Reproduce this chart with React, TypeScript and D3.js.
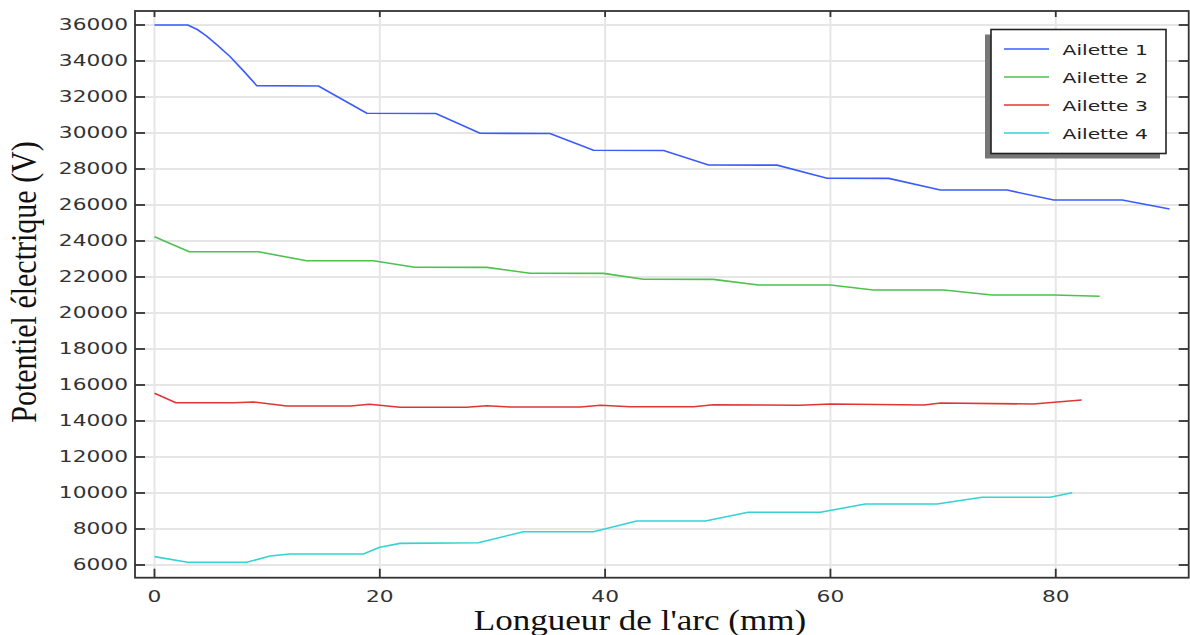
import React from "react";
import * as d3 from "d3";

const xTicks = [0, 20, 40, 60, 80];
const yTicks = [6000, 8000, 10000, 12000, 14000, 16000, 18000, 20000, 22000, 24000, 26000, 28000, 30000, 32000, 34000, 36000];

const seriesNames = ["Ailette 1", "Ailette 2", "Ailette 3", "Ailette 4"];
const seriesColors = ["#3b5bff", "#4cc24c", "#e03535", "#33d3d3"];

const ailette1X = [0, 2.95, 3.8, 4.6, 5.6, 6.7, 7.9, 9.08, 14.55, 18.85, 24.97, 28.9, 35.1, 38.97, 45.19, 49.18, 55.26, 59.7, 65.17, 69.76, 75.68, 79.82, 85.9, 90.1];
const ailette1Y = [36000, 36000, 35750, 35400, 34870, 34250, 33450, 32630, 32610, 31094, 31080, 29983, 29975, 29039, 29030, 28222, 28215, 27483, 27480, 26833, 26830, 26278, 26275, 25778];

const ailette2X = [0, 3.09, 9.22, 13.5, 19.43, 23.1, 29.5, 33.35, 39.86, 43.4, 49.6, 53.6, 60.0, 63.8, 70.05, 74.35, 79.8, 83.9];
const ailette2Y = [24239, 23406, 23400, 22906, 22900, 22539, 22535, 22206, 22200, 21872, 21868, 21556, 21552, 21278, 21275, 21000, 21000, 20928];

const ailette3X = [0, 1.9, 7.0, 8.8, 11.74, 17.4, 19.1, 21.8, 27.7, 29.5, 31.6, 37.8, 39.6, 42.2, 47.85, 49.6, 57.3, 60.0, 68.3, 69.8, 78.0, 82.3];
const ailette3Y = [15537, 15017, 15017, 15056, 14833, 14833, 14928, 14761, 14761, 14850, 14778, 14778, 14872, 14794, 14794, 14906, 14872, 14944, 14889, 15000, 14944, 15167];

const ailette4X = [0, 2.95, 8.19, 10.26, 12.03, 18.54, 20.0, 21.8, 28.76, 32.75, 38.97, 42.8, 48.9, 52.7, 59.1, 63.1, 69.47, 73.46, 79.5, 81.46];
const ailette4Y = [6463, 6150, 6150, 6500, 6611, 6611, 6983, 7200, 7239, 7850, 7850, 8444, 8444, 8928, 8928, 9389, 9389, 9761, 9761, 10017];

const seriesX = [ailette1X, ailette2X, ailette3X, ailette4X];
const seriesY = [ailette1Y, ailette2Y, ailette3Y, ailette4Y];

export default function App() {
  const left = 135, right = 1188.7, top = 11, bottom = 577.7;
  const x = d3.scaleLinear().domain([-1.73, 91.8]).range([left, right]);
  const y = d3.scaleLinear().domain([5294, 36778]).range([bottom, top]);
  const line = d3.line<[number, number]>().x(d => x(d[0])).y(d => y(d[1]));
  const axisColor = "#333";
  const tickFont = "DejaVu Sans, sans-serif";

  const legX = 991, legY = 29.5, legW = 175, legH = 124;

  return (
    <svg width={1190} height={635} style={{ position: "absolute", left: 0, top: 0, background: "#fff" }}>
      <rect x={0} y={0} width={1190} height={635} fill="#fff" />
      {yTicks.map(t => (
        <line key={"gy" + t} x1={left} x2={right} y1={y(t)} y2={y(t)} stroke="#e6e6e6" strokeWidth={2} />
      ))}
      {xTicks.map(t => (
        <line key={"gx" + t} x1={x(t)} x2={x(t)} y1={top} y2={bottom} stroke="#e6e6e6" strokeWidth={2} />
      ))}
      {seriesX.map((xs, i) => (
        <path key={"s" + i} d={line(xs.map((v, j) => [v, seriesY[i][j]]) as [number, number][]) || ""}
          fill="none" stroke={seriesColors[i]} strokeWidth={1.6} strokeLinejoin="round" />
      ))}
      <rect x={left} y={top} width={right - left} height={bottom - top} fill="none" stroke={axisColor} strokeWidth={1.8} />
      {xTicks.map(t => (
        <g key={"tx" + t}>
          <line x1={x(t)} x2={x(t)} y1={bottom} y2={bottom - 9} stroke={axisColor} strokeWidth={1.8} />
          <line x1={x(t)} x2={x(t)} y1={top} y2={top + 6} stroke={axisColor} strokeWidth={1.8} />
          <text transform={`translate(${x(t)},${602}) scale(1.45,1)`} textAnchor="middle" fontFamily={tickFont}
            fontSize={15} fill="#333">{t}</text>
        </g>
      ))}
      {yTicks.map(t => (
        <g key={"ty" + t}>
          <line x1={left} x2={left + 10} y1={y(t)} y2={y(t)} stroke={axisColor} strokeWidth={1.8} />
          <line x1={right} x2={right - 10} y1={y(t)} y2={y(t)} stroke={axisColor} strokeWidth={1.8} />
          <text transform={`translate(128,${y(t) + 5.4}) scale(1.45,1)`} textAnchor="end" fontFamily={tickFont}
            fontSize={15} fill="#333">{t}</text>
        </g>
      ))}
      <text transform="translate(640,630) scale(1.21,1)" textAnchor="middle" fontFamily="Liberation Serif, Times New Roman, serif"
        fontSize={29} fill="#111">Longueur de l'arc (mm)</text>
      <text transform="translate(36,282) scale(1.19,1) rotate(-90)" textAnchor="middle" fontFamily="Liberation Serif, Times New Roman, serif"
        fontSize={30} fill="#111">Potentiel électrique (V)</text>
      <rect x={legX - 6} y={legY + 5} width={legW} height={legH} fill="#777" />
      <rect x={legX} y={legY} width={legW} height={legH} fill="#fff" stroke="#222" strokeWidth={1.6} />
      {seriesNames.map((n, i) => (
        <g key={"l" + i}>
          <line x1={1004} x2={1049} y1={49 + i * 28} y2={49 + i * 28} stroke={seriesColors[i]} strokeWidth={1.6} />
          <text transform={`translate(1062.5,${49 + i * 28 + 5.5}) scale(1.4,1)`} fontFamily={tickFont} fontSize={14.5} fill="#222">{n}</text>
        </g>
      ))}
    </svg>
  );
}
